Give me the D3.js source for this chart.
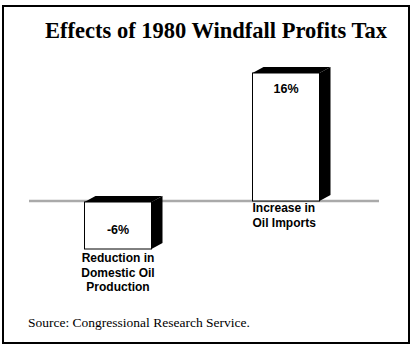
<!DOCTYPE html>
<html lang="en">
<head>
<meta charset="utf-8">
<script src="https://cdn.jsdelivr.net/npm/d3@7"></script>
<style>
  body { margin: 0; background: #fff; }
  .title { font: bold 22.5px "Liberation Serif", "Times New Roman", serif; }
  .source { font: 13.5px "Liberation Serif", "Times New Roman", serif; }
  .lbl { font: bold 12px "Liberation Sans", Arial, sans-serif; }
  .val { font: bold 12.5px "Liberation Sans", Arial, sans-serif; }
</style>
</head>
<body>
<script>
// chart data
var categories = ["Reduction in Domestic Oil Production", "Increase in Oil Imports"];
var values = [-6, 16];
var valueLabels = ["-6%", "16%"];
var labelLines = [["Reduction in", "Domestic Oil", "Production"], ["Increase in", "Oil Imports"]];

var w = 413, h = 348;
var barW = 67, dx = 11, dy = -6;

var svg = d3.select("body").append("svg")
  .attr("width", w)
  .attr("height", h);

// frame
svg.append("rect")
  .attr("x", 3).attr("y", 6)
  .attr("width", 406).attr("height", 337)
  .attr("fill", "none").attr("stroke", "#000").attr("stroke-width", 2);

svg.append("text").attr("class", "title")
  .attr("x", 216).attr("y", 38)
  .attr("text-anchor", "middle")
  .text("Effects of 1980 Windfall Profits Tax");

var y = d3.scaleLinear().domain([-6, 16]).range([249, 73]);
var x = d3.scalePoint().domain(categories).range([118, 286]);

var data = categories.map(function(c, i) {
  return { cat: c, value: values[i], label: valueLabels[i], lines: labelLines[i] };
});

// zero line
svg.append("line")
  .attr("x1", 29).attr("x2", 379)
  .attr("y1", y(0)).attr("y2", y(0))
  .attr("stroke", "#aaa").attr("stroke-width", 2.5);

var bars = svg.selectAll("g.bar").data(data).enter().append("g").attr("class", "bar");

// right side face
bars.append("path")
  .attr("fill", "#000")
  .attr("d", function(d) {
    var l = x(d.cat) - barW / 2, r = l + barW;
    var t = y(Math.max(0, d.value)) + (d.value < 0 ? 1 : 0), b = y(Math.min(0, d.value));
    return "M" + r + "," + t + "L" + (r + dx) + "," + (t + dy) +
           "L" + (r + dx) + "," + (b + dy) + "L" + r + "," + b + "Z";
  });

// top face
bars.append("path")
  .attr("fill", "#000")
  .attr("d", function(d) {
    var l = x(d.cat) - barW / 2, r = l + barW;
    var t = y(Math.max(0, d.value)) + (d.value < 0 ? 1 : 0);
    return "M" + l + "," + t + "L" + (l + dx) + "," + (t + dy) +
           "L" + (r + dx) + "," + (t + dy) + "L" + r + "," + t + "Z";
  });

// front face
bars.append("rect")
  .attr("x", function(d) { return x(d.cat) - barW / 2; })
  .attr("y", function(d) { return y(Math.max(0, d.value)) + (d.value < 0 ? 1 : 0); })
  .attr("width", barW)
  .attr("height", function(d) { return Math.abs(y(d.value) - y(0)) - (d.value < 0 ? 1 : 0); })
  .attr("fill", "#fff").attr("stroke", "#000").attr("stroke-width", 1);

// value labels
bars.append("text").attr("class", "val")
  .attr("text-anchor", "middle")
  .attr("x", function(d) { return x(d.cat); })
  .attr("y", function(d) { return d.value < 0 ? y(d.value / 2) + 9 : y(d.value) + 20; })
  .text(function(d) { return d.label; });

// category labels
bars.each(function(d) {
  var g = d3.select(this);
  var neg = d.value < 0;
  var tx = neg ? x(d.cat) : x(d.cat) - barW / 2;
  var ty = neg ? y(d.value) + 13 : y(0) + 11;
  var t = g.append("text").attr("class", "lbl")
    .attr("text-anchor", neg ? "middle" : "start");
  d.lines.forEach(function(line, i) {
    t.append("tspan").attr("x", tx).attr("y", ty + i * 14.5).text(line);
  });
});

svg.append("text").attr("class", "source")
  .attr("x", 28).attr("y", 327)
  .text("Source: Congressional Research Service.");
</script>
</body>
</html>
